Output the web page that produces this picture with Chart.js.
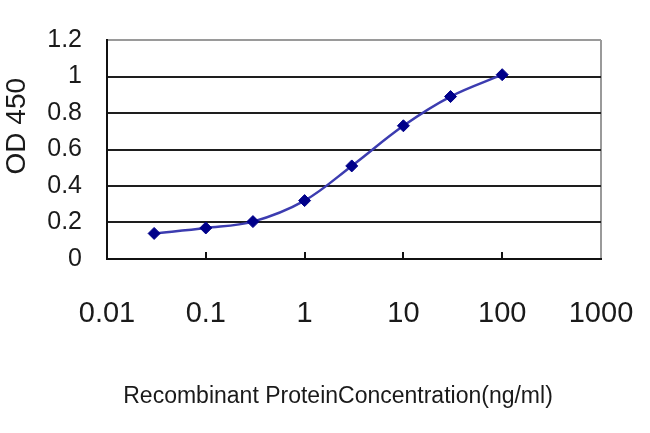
<!DOCTYPE html>
<html><head><meta charset="utf-8">
<script src="https://cdn.jsdelivr.net/npm/chart.js@4.4.0/dist/chart.umd.min.js"></script>
<style>html,body{margin:0;padding:0;background:#fff;}</style>
</head><body>
<canvas id="c" width="650" height="433"></canvas>
<script>
const concentrations = [0.03, 0.1, 0.3, 1, 3, 10, 30, 100];
const od450 = [0.14, 0.17, 0.205, 0.32, 0.51, 0.73, 0.89, 1.01];
const xTickValues = [0.01, 0.1, 1, 10, 100, 1000];
const xTickLabels = ['0.01', '0.1', '1', '10', '100', '1000'];
const yTickValues = [0, 0.2, 0.4, 0.6, 0.8, 1, 1.2];
const yTickLabels = ['0', '0.2', '0.4', '0.6', '0.8', '1', '1.2'];
const xTitle = 'Recombinant ProteinConcentration(ng/ml)';
const yTitle = 'OD 450';

const FAM = "'Liberation Sans',Arial,sans-serif";
const TXT = '#1a1a1a';

const innerTicks = {
  id: 'innerTicks',
  beforeDatasetsDraw(chart) {
    const xs = chart.scales.x, ctx = chart.ctx, b = chart.chartArea.bottom;
    ctx.save();
    ctx.strokeStyle = '#111';
    ctx.lineWidth = 2;
    xTickValues.slice(1, -1).forEach(v => {
      const px = Math.round(xs.getPixelForValue(v));
      ctx.beginPath(); ctx.moveTo(px, b); ctx.lineTo(px, b - 7); ctx.stroke();
    });
    ctx.restore();
  }
};

new Chart(document.getElementById('c'), {
  type: 'line',
  data: {
    datasets: [{
      data: concentrations.map((c, i) => ({x: c, y: od450[i]})),
      borderColor: '#3c3cb0',
      borderWidth: 2.5,
      tension: 0.35,
      fill: false,
      pointStyle: 'rectRot',
      pointRadius: 6,
      pointBackgroundColor: '#00008a',
      pointBorderColor: '#00008a',
      pointBorderWidth: 1
    }]
  },
  options: {
    responsive: false,
    animation: false,
    devicePixelRatio: 1,
    layout: {padding: {top: 40, right: 49, left: 0, bottom: 0}},
    plugins: {legend: {display: false}, tooltip: {enabled: false}},
    scales: {
      x: {
        type: 'logarithmic',
        min: 0.01, max: 1000,
        afterBuildTicks: s => { s.ticks = xTickValues.map(v => ({value: v})); },
        afterFit: s => { s.height = 174; s.paddingLeft = 0; s.paddingRight = 0; },
        ticks: {
          autoSkip: false, maxRotation: 0, padding: 38, color: TXT,
          font: {family: FAM, size: 29},
          callback: v => xTickLabels[xTickValues.indexOf(v)]
        },
        grid: {
          drawTicks: false, lineWidth: 2,
          color: c => (c.tick && c.tick.value === 1000) ? '#9a9a9a' : 'rgba(0,0,0,0)'
        },
        border: {color: '#111', width: 2},
        title: {
          display: true, text: xTitle + '     ', color: TXT,
          font: {family: FAM, size: 23}, padding: {top: 0, bottom: 23}
        }
      },
      y: {
        min: 0, max: 1.2,
        afterBuildTicks: s => { s.ticks = yTickValues.map(v => ({value: v})); },
        afterFit: s => { s.width = 107; s.paddingTop = 0; s.paddingBottom = 0; },
        ticks: {
          autoSkip: false, padding: 25, color: TXT,
          font: {family: FAM, size: 25},
          callback: (v, i) => yTickLabels[i]
        },
        grid: {
          drawTicks: false, lineWidth: 2,
          color: c => {
            if (!c.tick) return 'rgba(0,0,0,0)';
            if (c.tick.value >= 1.19) return '#9a9a9a';
            if (c.tick.value === 0) return 'rgba(0,0,0,0)';
            return '#1e1e1e';
          }
        },
        border: {color: '#111', width: 2},
        title: {
          display: true, text: '      ' + yTitle, color: TXT,
          font: {family: FAM, size: 28}, padding: 0
        }
      }
    }
  },
  plugins: [innerTicks]
});
</script>
</body></html>
